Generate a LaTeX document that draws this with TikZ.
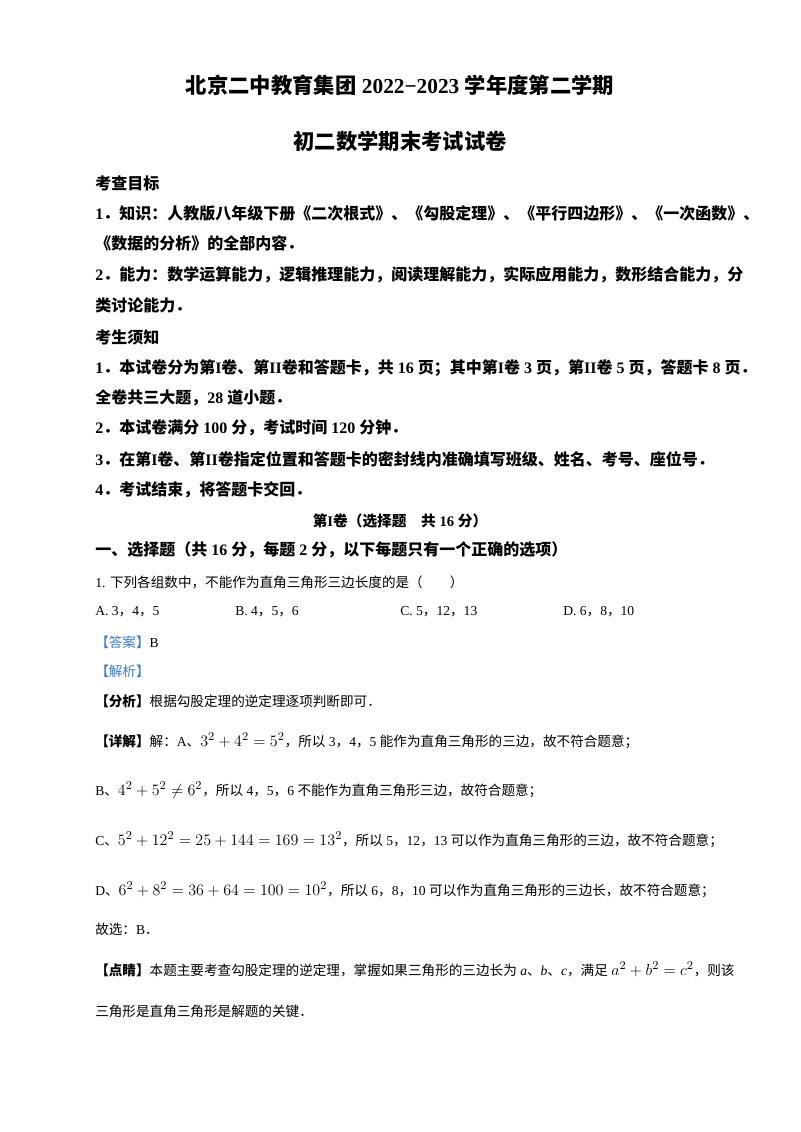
\documentclass[tikz,border=0pt]{standalone}
\usepackage{fontspec}
\setmainfont{Liberation Serif}
\newfontfamily\cjk{Noto Sans CJK SC}
\XeTeXinterchartokenstate=1
\newXeTeXintercharclass\cjkclass
\count255="3000
\loop\XeTeXcharclass\count255=\cjkclass\advance\count255 1 \ifnum\count255<"3040 \repeat
\count255="4E00
\loop\XeTeXcharclass\count255=\cjkclass\advance\count255 1 \ifnum\count255<"A000 \repeat
\count255="FF00
\loop\XeTeXcharclass\count255=\cjkclass\advance\count255 1 \ifnum\count255<"FF60 \repeat
\XeTeXinterchartoks 0 \cjkclass {\begingroup\cjk}
\XeTeXinterchartoks 4095 \cjkclass {\begingroup\cjk}
\XeTeXinterchartoks \cjkclass 0 {\endgroup}
\XeTeXinterchartoks \cjkclass 4095 {\endgroup}
\definecolor{hdblue}{HTML}{3A7BC8}
\newcommand{\bm}[1]{{\fontsize{12.5pt}{12pt}\selectfont$#1$}}
\begin{document}
\begin{tikzpicture}[x=0.75pt,y=-0.75pt,
  bl/.style={anchor=west,inner sep=0pt,font=\fontsize{12pt}{12pt}\selectfont\bfseries},
  nl/.style={anchor=west,inner sep=0pt,font=\fontsize{10.2pt}{10pt}\selectfont},
  tl/.style={inner sep=0pt,font=\fontsize{16pt}{16pt}\selectfont\bfseries}]
\useasboundingbox (0,0) rectangle (800,1132);
\node[tl] (t1) at (400,85) {北京二中教育集团 2022−2023 学年度第二学期};
\node[tl] (t2) at (400,141) {初二数学期末考试试卷};
\node[bl] (a1) at (95,183) {考查目标};
\node[bl] (a2) at (95,213) {1．知识：人教版八年级下册《二次根式》、《勾股定理》、《平行四边形》、《一次函数》、};
\node[bl] (a3) at (95,243) {《数据的分析》的全部内容．};
\node[bl] (a4) at (95,275) {2．能力：数学运算能力，逻辑推理能力，阅读理解能力，实际应用能力，数形结合能力，分};
\node[bl] (a5) at (95,305) {类讨论能力．};
\node[bl] (a6) at (95,337) {考生须知};
\node[bl] (a7) at (95,368) {1．本试卷分为第I卷、第II卷和答题卡，共 16 页；其中第I卷 3 页，第II卷 5 页，答题卡 8 页．};
\node[bl] (a8) at (95,398) {全卷共三大题，28 道小题．};
\node[bl] (a9) at (95,428) {2．本试卷满分 100 分，考试时间 120 分钟．};
\node[bl] (a10) at (95,459) {3．在第I卷、第II卷指定位置和答题卡的密封线内准确填写班级、姓名、考号、座位号．};
\node[bl] (a11) at (95,490) {4．考试结束，将答题卡交回．};
\node[inner sep=0pt,font=\fontsize{11pt}{11pt}\selectfont\bfseries] (s1) at (400,521) {第I卷（选择题\quad 共 16 分）};
\node[bl] (s2) at (95,550) {一、选择题（共 16 分，每题 2 分，以下每题只有一个正确的选项）};
\node[nl] (q1) at (95,582) {1. 下列各组数中，不能作为直角三角形三边长度的是（\qquad ）};
\node[nl] (oa) at (95,612) {A. 3，4，5};
\node[nl] (ob) at (235,612) {B. 4，5，6};
\node[nl] (oc) at (400,612) {C. 5，12，13};
\node[nl] (od) at (563,612) {D. 6，8，10};
\node[nl] (ans) at (95,642) {\textcolor{hdblue}{【答案】}B};
\node[nl] (jx) at (95,671) {\textcolor{hdblue}{【解析】}};
\node[nl] (fx) at (95,701) {\textbf{【分析】}根据勾股定理的逆定理逐项判断即可．};
\node[nl] (xj) at (95,741) {\textbf{【详解】}解：A、\bm{3^2+4^2=5^2}，所以 3，4，5 能作为直角三角形的三边，故不符合题意；};
\node[nl] (lb) at (95,790) {B、\bm{4^2+5^2\neq6^2}，所以 4，5，6 不能作为直角三角形三边，故符合题意；};
\node[nl] (lc) at (95,840) {C、\bm{5^2+12^2=25+144=169=13^2}，所以 5，12，13 可以作为直角三角形的三边，故不符合题意；};
\node[nl] (ld) at (95,890) {D、\bm{6^2+8^2=36+64=100=10^2}，所以 6，8，10 可以作为直角三角形的三边长，故不符合题意；};
\node[nl] (gx) at (95,929) {故选：B．};
\node[nl] (dj) at (95,969) {\textbf{【点睛】}本题主要考查勾股定理的逆定理，掌握如果三角形的三边长为 \textit{a}、\textit{b}、\textit{c}，满足 \bm{a^2+b^2=c^2}，则该};
\node[nl] (dj2) at (95,1011) {三角形是直角三角形是解题的关键．};
\end{tikzpicture}
\end{document}
